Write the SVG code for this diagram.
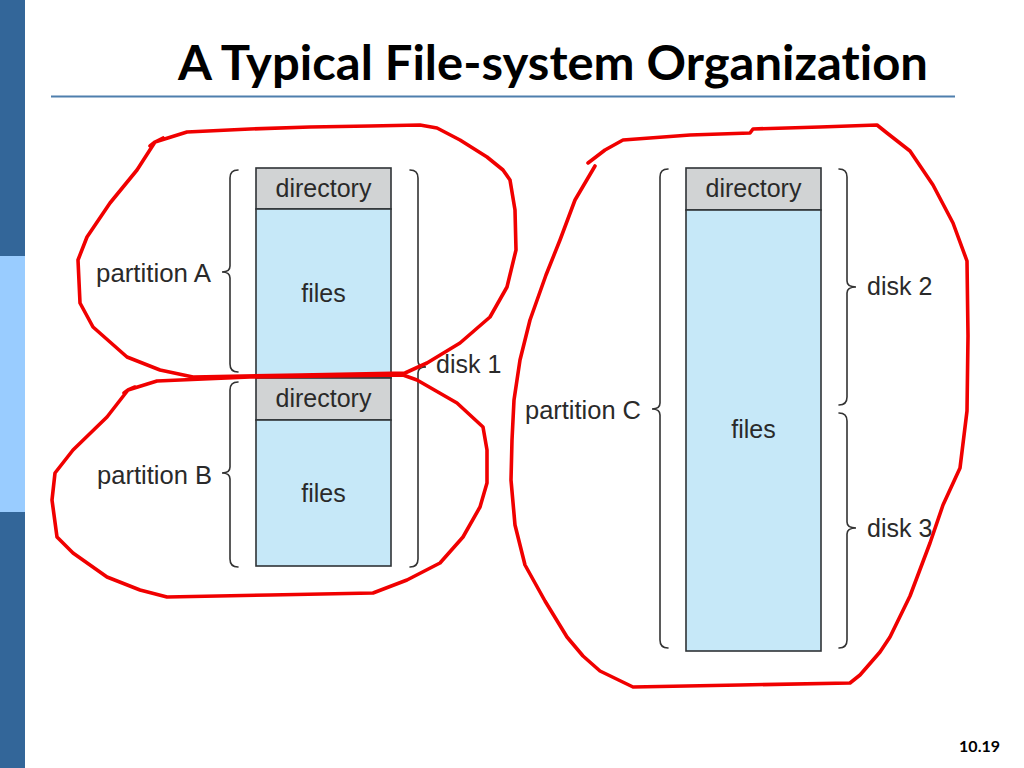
<svg xmlns="http://www.w3.org/2000/svg" width="1024" height="768" viewBox="0 0 1024 768">
<style>
  .lbl { font-family: "Liberation Sans", Arial, sans-serif; font-size: 25px; fill: #2a2a2a; }
  .mid { text-anchor: middle; }
  .dir { fill: #d1d3d4; stroke: #2f3336; stroke-width: 1.6; }
  .fil { fill: #c6e8f8; stroke: #2f3336; stroke-width: 1.6; }
  .brace { fill: none; stroke: #333333; stroke-width: 1.6; stroke-linecap: round; }
  .ink { fill: none; stroke: #f00000; stroke-width: 3.6; stroke-linejoin: round; stroke-linecap: round; }
</style>
<rect x="0" y="0" width="1024" height="768" fill="#ffffff"/>
<!-- sidebar -->
<rect x="0" y="0" width="25" height="256" fill="#336699"/>
<rect x="0" y="256" width="25" height="256" fill="#99ccff"/>
<rect x="0" y="512" width="25" height="256" fill="#336699"/>
<!-- title -->
<text x="553" y="80" text-anchor="middle" font-family="Lato, 'Open Sans', sans-serif" font-weight="bold" font-size="47" fill="#000" style="font-variant-ligatures: none" textLength="750" lengthAdjust="spacingAndGlyphs">A Typical File-system Organization</text>
<line x1="51" y1="96.5" x2="955" y2="96.5" stroke="#4f7fad" stroke-width="2.2"/>

<g id="partitionA">
  <rect class="dir" x="256" y="168" width="135" height="41"/>
  <rect class="fil" x="256" y="209" width="135" height="169"/>
  <text class="lbl mid" x="323.5" y="197">directory</text>
  <text class="lbl mid" x="323.5" y="302">files</text>
  <text class="lbl" x="96" y="282" textLength="115" lengthAdjust="spacingAndGlyphs">partition A</text>
</g>
<g id="partitionB">
  <rect class="dir" x="256" y="378" width="135" height="42"/>
  <rect class="fil" x="256" y="420" width="135" height="146"/>
  <text class="lbl mid" x="323.5" y="407">directory</text>
  <text class="lbl mid" x="323.5" y="502">files</text>
  <text class="lbl" x="97" y="484" textLength="115" lengthAdjust="spacingAndGlyphs">partition B</text>
</g>
<g id="partitionC">
  <rect class="dir" x="686" y="168" width="135" height="42"/>
  <rect class="fil" x="686" y="210" width="135" height="441"/>
  <text class="lbl mid" x="753.5" y="197">directory</text>
  <text class="lbl mid" x="753.5" y="438">files</text>
  <text class="lbl" x="525" y="419" textLength="116" lengthAdjust="spacingAndGlyphs">partition C</text>
</g>
<g id="disk1"><text class="lbl" x="436" y="373">disk 1</text></g>
<g id="disk2"><text class="lbl" x="867" y="295">disk 2</text></g>
<g id="disk3"><text class="lbl" x="867" y="537">disk 3</text></g>

<g id="connectors">
  <!-- partition A brace -->
  <path class="brace" d="M238,170 Q230,170 230,178 L230,266 Q230,272 222,272 Q230,272 230,278 L230,364 Q230,372 238,372"/>
  <!-- partition B brace -->
  <path class="brace" d="M238,382 Q230,382 230,390 L230,467 Q230,473 222,473 Q230,473 230,479 L230,559 Q230,567 238,567"/>
  <!-- disk 1 brace -->
  <path class="brace" d="M410,170 Q418,170 418,178 L418,361 Q418,367 426,367 Q418,367 418,373 L418,559 Q418,567 410,567"/>
  <!-- partition C brace -->
  <path class="brace" d="M668,169 Q660,169 660,177 L660,403 Q660,409 652,409 Q660,409 660,415 L660,640 Q660,648 668,648"/>
  <!-- disk 2 brace -->
  <path class="brace" d="M839,169 Q847,169 847,177 L847,281 Q847,287 856,287 Q847,287 847,293 L847,397 Q847,405 839,405"/>
  <!-- disk 3 brace -->
  <path class="brace" d="M839,413 Q847,413 847,421 L847,522 Q847,528 856,528 Q847,528 847,534 L847,640 Q847,648 839,648"/>
</g>

<g id="annotations">
  <polyline class="ink" points="150,146 155,142 187,132 250,129 310,127 370,126 420,125 437,128 460,140 487,157 503,170 510,180 515,210 516,250 507,287 490,317 460,343 427,363 405,373 300,375 193,377 160,370 127,357 93,327 80,303 78,260 87,237 110,203 137,170 155,142 163,138"/>
  <polyline class="ink" points="124,393 128,390 157,381 250,377 403,375 417,380 457,403 483,427 487,450 487,483 480,507 463,537 440,563 407,580 373,593 270,595 167,597 140,590 107,577 73,553 57,537 52,500 55,473 73,450 107,417 128,390 135,387"/>
  <polyline class="ink" points="588,163 605,150 623,140 690,135 750,133 753,129 820,127 877,125 887,133 910,151 933,185 953,223 967,261 968,336 967,411 960,468 943,505 930,543 910,596 890,637 880,652 860,675 850,683 740,685 633,687 600,671 583,656 567,637 545,601 525,565 515,525 511,480 512,440 514,400 520,360 530,320 546,275 560,240 575,200 595,166"/>
</g>

<text x="1000" y="752" text-anchor="end" font-family="Lato, 'Liberation Sans', sans-serif" font-weight="bold" font-size="16" fill="#000">10.19</text>
</svg>
